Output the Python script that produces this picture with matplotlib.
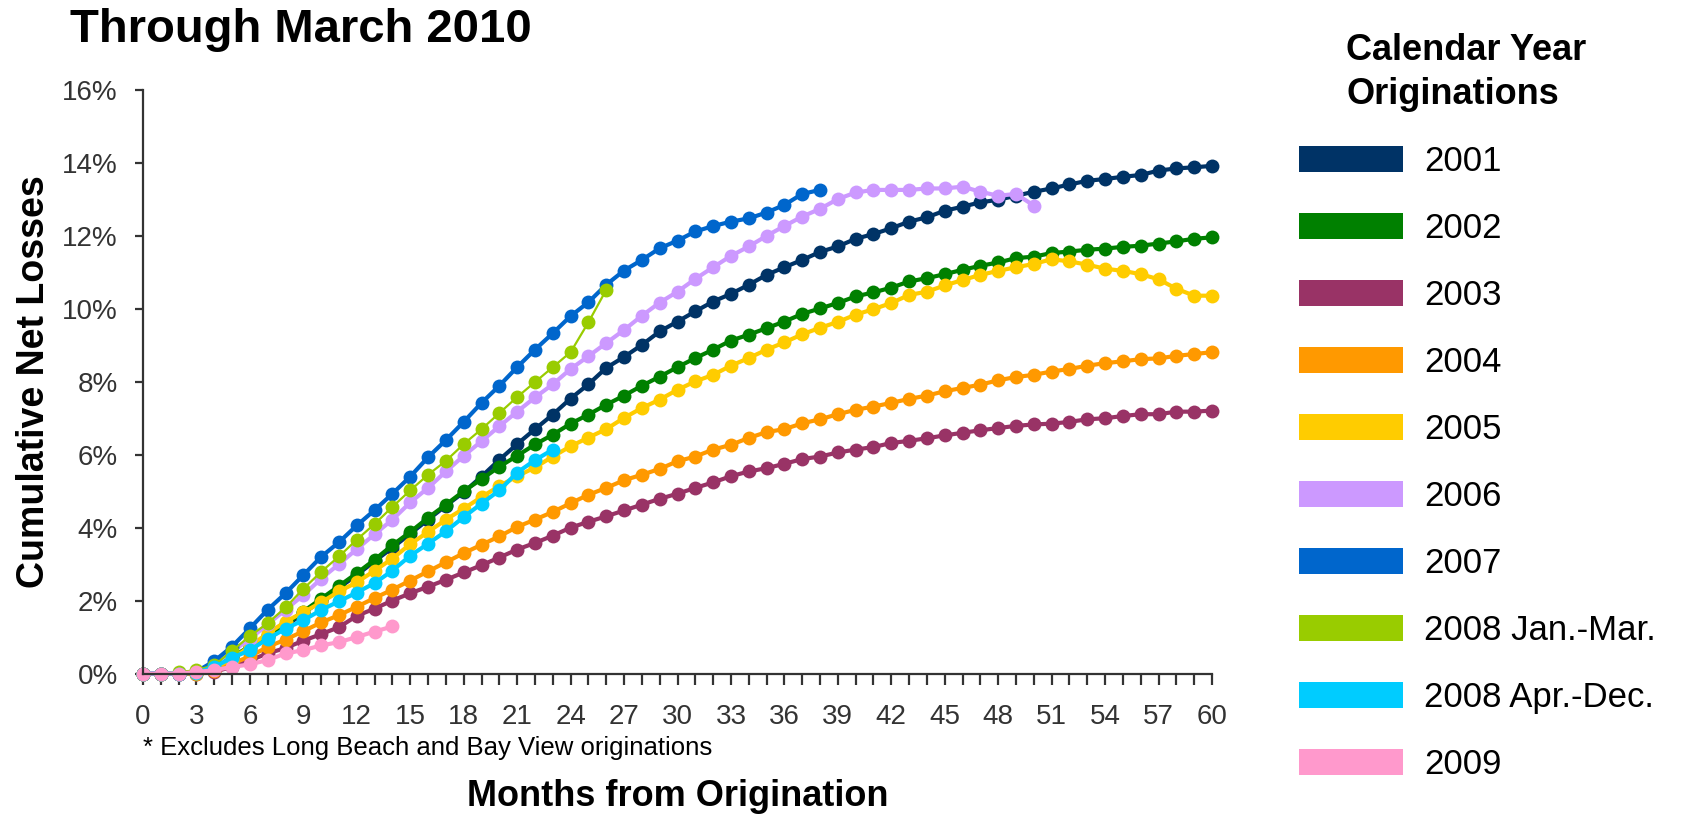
import matplotlib
matplotlib.use("Agg")
import matplotlib.pyplot as plt
from matplotlib.patches import Patch
from matplotlib.ticker import FuncFormatter, MultipleLocator

plt.rcParams['font.family'] = ['Liberation Sans', 'DejaVu Sans']

# Cumulative net losses (%) by months from origination, per origination vintage
loss_2001 = [0, 0, 0, 0.02, 0.18, 0.42, 0.70, 1.00, 1.30, 1.65, 2.00, 2.35, 2.70, 3.08, 3.45,
             3.83, 4.22, 4.60, 4.97, 5.40, 5.86, 6.29, 6.70, 7.10, 7.54, 7.93, 8.38, 8.68, 9.01,
             9.38, 9.65, 9.93, 10.20, 10.41, 10.66, 10.93, 11.14, 11.34, 11.56, 11.71, 11.92,
             12.05, 12.21, 12.39, 12.51, 12.69, 12.80, 12.92, 12.99, 13.10, 13.21, 13.30, 13.41,
             13.51, 13.56, 13.62, 13.67, 13.79, 13.85, 13.88, 13.92]
loss_2002 = [0, 0, 0, 0.03, 0.20, 0.45, 0.75, 1.05, 1.35, 1.70, 2.05, 2.40, 2.75, 3.12, 3.52,
             3.88, 4.27, 4.63, 5.00, 5.33, 5.67, 5.97, 6.28, 6.55, 6.85, 7.10, 7.37, 7.62, 7.89,
             8.14, 8.40, 8.65, 8.88, 9.13, 9.29, 9.47, 9.65, 9.86, 10.01, 10.16, 10.34, 10.45,
             10.58, 10.75, 10.84, 10.95, 11.07, 11.18, 11.27, 11.39, 11.43, 11.53, 11.57, 11.62,
             11.65, 11.70, 11.73, 11.79, 11.85, 11.92, 11.96]
loss_2003 = [0, 0, 0, 0, 0.05, 0.18, 0.36, 0.55, 0.70, 0.90, 1.08, 1.27, 1.58, 1.78, 2.00,
             2.20, 2.38, 2.57, 2.77, 2.97, 3.18, 3.40, 3.58, 3.78, 4.00, 4.16, 4.31, 4.47, 4.63,
             4.79, 4.93, 5.09, 5.24, 5.41, 5.54, 5.63, 5.75, 5.88, 5.95, 6.06, 6.14, 6.21, 6.32,
             6.38, 6.45, 6.53, 6.60, 6.67, 6.73, 6.79, 6.83, 6.85, 6.90, 6.97, 7.00, 7.06, 7.11,
             7.11, 7.18, 7.18, 7.21]
loss_2004 = [0, 0, 0, 0, 0.08, 0.27, 0.47, 0.73, 0.93, 1.16, 1.40, 1.60, 1.83, 2.07, 2.30,
             2.55, 2.80, 3.05, 3.30, 3.53, 3.76, 4.02, 4.22, 4.43, 4.67, 4.90, 5.09, 5.30, 5.45,
             5.61, 5.82, 5.95, 6.14, 6.27, 6.46, 6.62, 6.70, 6.86, 6.97, 7.11, 7.23, 7.32, 7.42,
             7.53, 7.62, 7.74, 7.83, 7.92, 8.04, 8.13, 8.19, 8.28, 8.35, 8.44, 8.51, 8.56, 8.62,
             8.64, 8.71, 8.76, 8.81]
loss_2005 = [0, 0, 0, 0.02, 0.15, 0.40, 0.75, 1.10, 1.42, 1.68, 1.95, 2.25, 2.50, 2.82, 3.15,
             3.55, 3.88, 4.22, 4.52, 4.84, 5.14, 5.41, 5.65, 5.95, 6.23, 6.47, 6.70, 7.01, 7.28,
             7.51, 7.78, 8.01, 8.19, 8.44, 8.65, 8.88, 9.08, 9.30, 9.48, 9.64, 9.84, 9.99, 10.16,
             10.38, 10.47, 10.64, 10.79, 10.93, 11.04, 11.14, 11.23, 11.36, 11.30, 11.21, 11.10,
             11.04, 10.95, 10.81, 10.55, 10.36, 10.36]
loss_2006 = [0, 0, 0, 0.05, 0.25, 0.60, 0.95, 1.35, 1.75, 2.15, 2.60, 3.00, 3.41, 3.82, 4.22,
             4.69, 5.09, 5.54, 5.97, 6.37, 6.78, 7.18, 7.57, 7.93, 8.35, 8.70, 9.06, 9.42, 9.81,
             10.17, 10.47, 10.82, 11.14, 11.45, 11.71, 12.00, 12.27, 12.53, 12.74, 13.01, 13.19,
             13.26, 13.26, 13.26, 13.30, 13.30, 13.35, 13.21, 13.10, 13.15, 12.83]
loss_2007 = [0, 0, 0, 0.05, 0.34, 0.74, 1.24, 1.75, 2.20, 2.70, 3.20, 3.60, 4.06, 4.48, 4.93,
             5.40, 5.93, 6.40, 6.90, 7.42, 7.89, 8.40, 8.88, 9.33, 9.80, 10.18, 10.66, 11.05,
             11.34, 11.66, 11.87, 12.12, 12.27, 12.39, 12.48, 12.64, 12.85, 13.15, 13.26]
loss_2008_q1 = [0, 0, 0.04, 0.09, 0.23, 0.62, 1.03, 1.38, 1.81, 2.32, 2.79, 3.21, 3.67, 4.10,
                4.57, 5.02, 5.45, 5.83, 6.29, 6.70, 7.14, 7.58, 7.99, 8.40, 8.81, 9.63, 10.52]
loss_2008_q2_q4 = [0, 0, 0, 0.02, 0.18, 0.43, 0.64, 0.95, 1.23, 1.46, 1.74, 1.98, 2.22, 2.48,
                   2.82, 3.23, 3.56, 3.90, 4.29, 4.66, 5.02, 5.51, 5.85, 6.14]
loss_2009 = [0, 0, 0, 0.04, 0.09, 0.18, 0.25, 0.37, 0.55, 0.64, 0.77, 0.86, 1.00, 1.15, 1.29]

vintages = ["2001", "2002", "2003", "2004", "2005", "2006", "2007",
            "2008 Jan.-Mar.", "2008 Apr.-Dec.", "2009"]
series = [loss_2001, loss_2002, loss_2003, loss_2004, loss_2005, loss_2006, loss_2007,
          loss_2008_q1, loss_2008_q2_q4, loss_2009]
colors = ["#003366", "#008000", "#993366", "#FF9900", "#FFCC00", "#CC99FF", "#0066CC",
          "#99CC00", "#00CCFF", "#FF99CC"]
line_widths = [3, 3, 3, 3, 3, 3, 3, 1.6, 3, 3]

fig = plt.figure(figsize=(16.91, 8.14), dpi=100)
ax = fig.add_axes([143 / 1691, 1 - 673.5 / 814, (1212 - 143) / 1691, (673.5 - 90) / 814])

for name, values, color, lw in zip(vintages, series, colors, line_widths):
    months = list(range(len(values)))
    ax.plot(months, values, color=color, lw=lw, marker="o", markersize=10,
            markeredgewidth=0, clip_on=False, label=name)

ax.set_xlim(0, 60)
ax.set_ylim(0, 16)
ax.xaxis.set_major_locator(MultipleLocator(3))
ax.xaxis.set_minor_locator(MultipleLocator(1))
ax.yaxis.set_major_locator(MultipleLocator(2))
ax.yaxis.set_major_formatter(FuncFormatter(lambda v, _: f"{v:.0f}%"))

axis_color = "#333333"
for side in ("top", "right"):
    ax.spines[side].set_visible(False)
for side in ("left", "bottom"):
    ax.spines[side].set_color(axis_color)
    ax.spines[side].set_linewidth(1.6)
ax.tick_params(axis="x", which="both", direction="out", length=8, width=1.6,
               color=axis_color, labelsize=20, labelcolor=axis_color, pad=14)
ax.tick_params(axis="y", direction="out", length=6, width=1.6, color=axis_color,
               labelsize=20, labelcolor=axis_color, pad=12)

ax.set_ylabel("Cumulative Net Losses", fontsize=27, fontweight="bold")
ax.yaxis.set_label_coords(-0.085, 0.5)
fig.text(678 / 1691, 1 - 796 / 814, "Months from Origination", fontsize=26,
         fontweight="bold", ha="center", va="center")
fig.text(143 / 1691, 1 - 748 / 814, "* Excludes Long Beach and Bay View originations",
         fontsize=18.5, ha="left", va="center")
fig.text(70 / 1691, 1 - 30 / 814, "Through March 2010", fontsize=34, fontweight="bold",
         ha="left", va="center")

# Legend heading, two lines
fig.text(1346 / 1691, 1 - 50 / 814, "Calendar Year", fontsize=26,
         fontweight="bold", ha="left", va="center")
fig.text(1346 / 1691, 1 - 95 / 814, "Originations", fontsize=26,
         fontweight="bold", ha="left", va="center")
handles = [Patch(facecolor=c, edgecolor="none") for c in colors]
ax.legend(handles, vintages, loc="upper left", bbox_to_anchor=(1299 / 1691, 1 - 145 / 814),
          bbox_transform=fig.transFigure, frameon=False, borderpad=0, borderaxespad=0,
          fontsize=25, handlelength=3.0, handleheight=0.75, handletextpad=0.6,
          labelspacing=0.98)

fig.savefig("out.png", dpi=100, facecolor="white")
